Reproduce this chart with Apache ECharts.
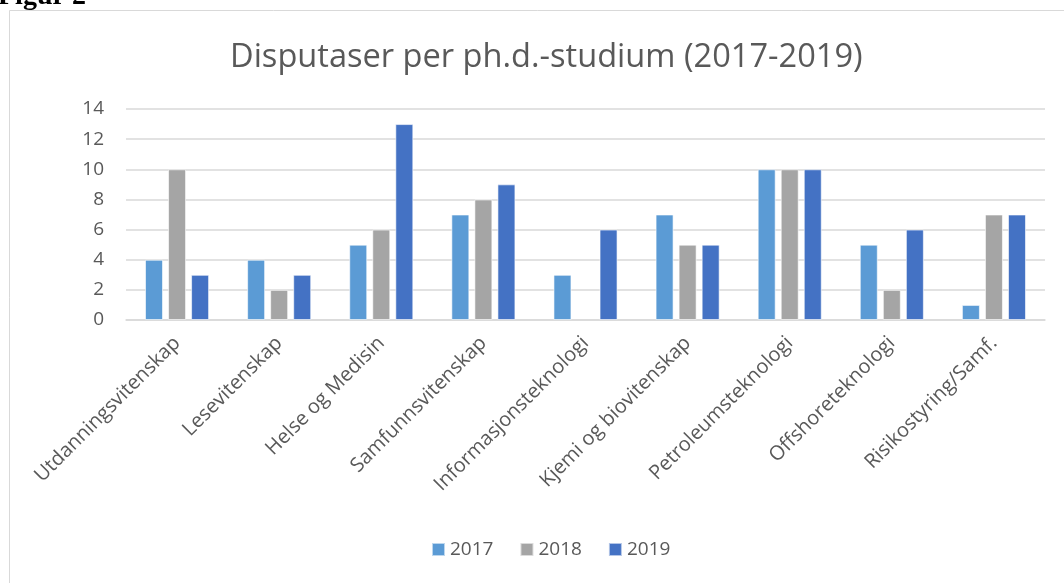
<!DOCTYPE html>
<html><head><meta charset="utf-8">
<script src="https://cdn.jsdelivr.net/npm/echarts@6/dist/echarts.min.js"></script>
<style>html,body{margin:0;padding:0;background:#fff}#c{width:1064px;height:583px}</style>
</head><body><div id="c"></div>
<script>
const categories = ['Utdanningsvitenskap','Lesevitenskap','Helse og Medisin','Samfunnsvitenskap','Informasjonsteknologi','Kjemi og biovitenskap','Petroleumsteknologi','Offshoreteknologi','Risikostyring/Samf.'];
const seriesNames = ['2017','2018','2019'];
const v2017 = [4,4,5,7,3,7,10,5,1];
const v2018 = [10,2,6,8,null,5,10,2,7];
const v2019 = [3,3,13,9,6,5,10,6,7];
const colors = ['#5B9BD5','#A5A5A5','#4472C4'];
const F = '"Open Sans", sans-serif';
const chart = echarts.init(document.getElementById('c'));
const vals = [v2017, v2018, v2019];
chart.setOption({
  animation:false,
  backgroundColor:'#fff',
  title:{text:'Disputaser per ph.d.-studium (2017-2019)', left:225, top:36,
    textStyle:{fontFamily:F, fontSize:32.6, fontWeight:'normal', color:'#595959'}},
  graphic:[
    {type:'rect', shape:{x:9.5,y:10.5,width:1080,height:600}, style:{fill:null, stroke:'#d9d9d9', lineWidth:1}},
    {type:'text', x:-2, y:-17, style:{text:'Figur 2', font:'bold 28px "Liberation Serif", serif', fill:'#000'}}
  ],
  legend:{data:seriesNames, bottom:19, left:426, itemWidth:13, itemHeight:13, itemGap:26, icon:'rect',
    textStyle:{fontFamily:F, fontSize:19, color:'#595959'}},
  grid:{left:126, right:19, top:109, bottom:263, containLabel:false},
  xAxis:{type:'category', data:categories,
    axisLine:{lineStyle:{color:'#d9d9d9', width:1.5}}, axisTick:{show:false},
    axisLabel:{rotate:45, interval:0, margin:20, fontFamily:F, fontSize:20, color:'#595959'}},
  yAxis:{type:'value', min:0, max:14, interval:2,
    axisLine:{show:false}, axisTick:{show:false},
    splitLine:{lineStyle:{color:'#d9d9d9', width:1.5}},
    axisLabel:{margin:22, fontFamily:F, fontSize:19, color:'#595959'}},
  series: seriesNames.map((n,i)=>({name:n, type:'bar', data:vals[i], barWidth:18, barGap:'28%',
    itemStyle:{color:colors[i], borderColor:'rgba(255,255,255,0.6)', borderWidth:1}}))
});
</script></body></html>
